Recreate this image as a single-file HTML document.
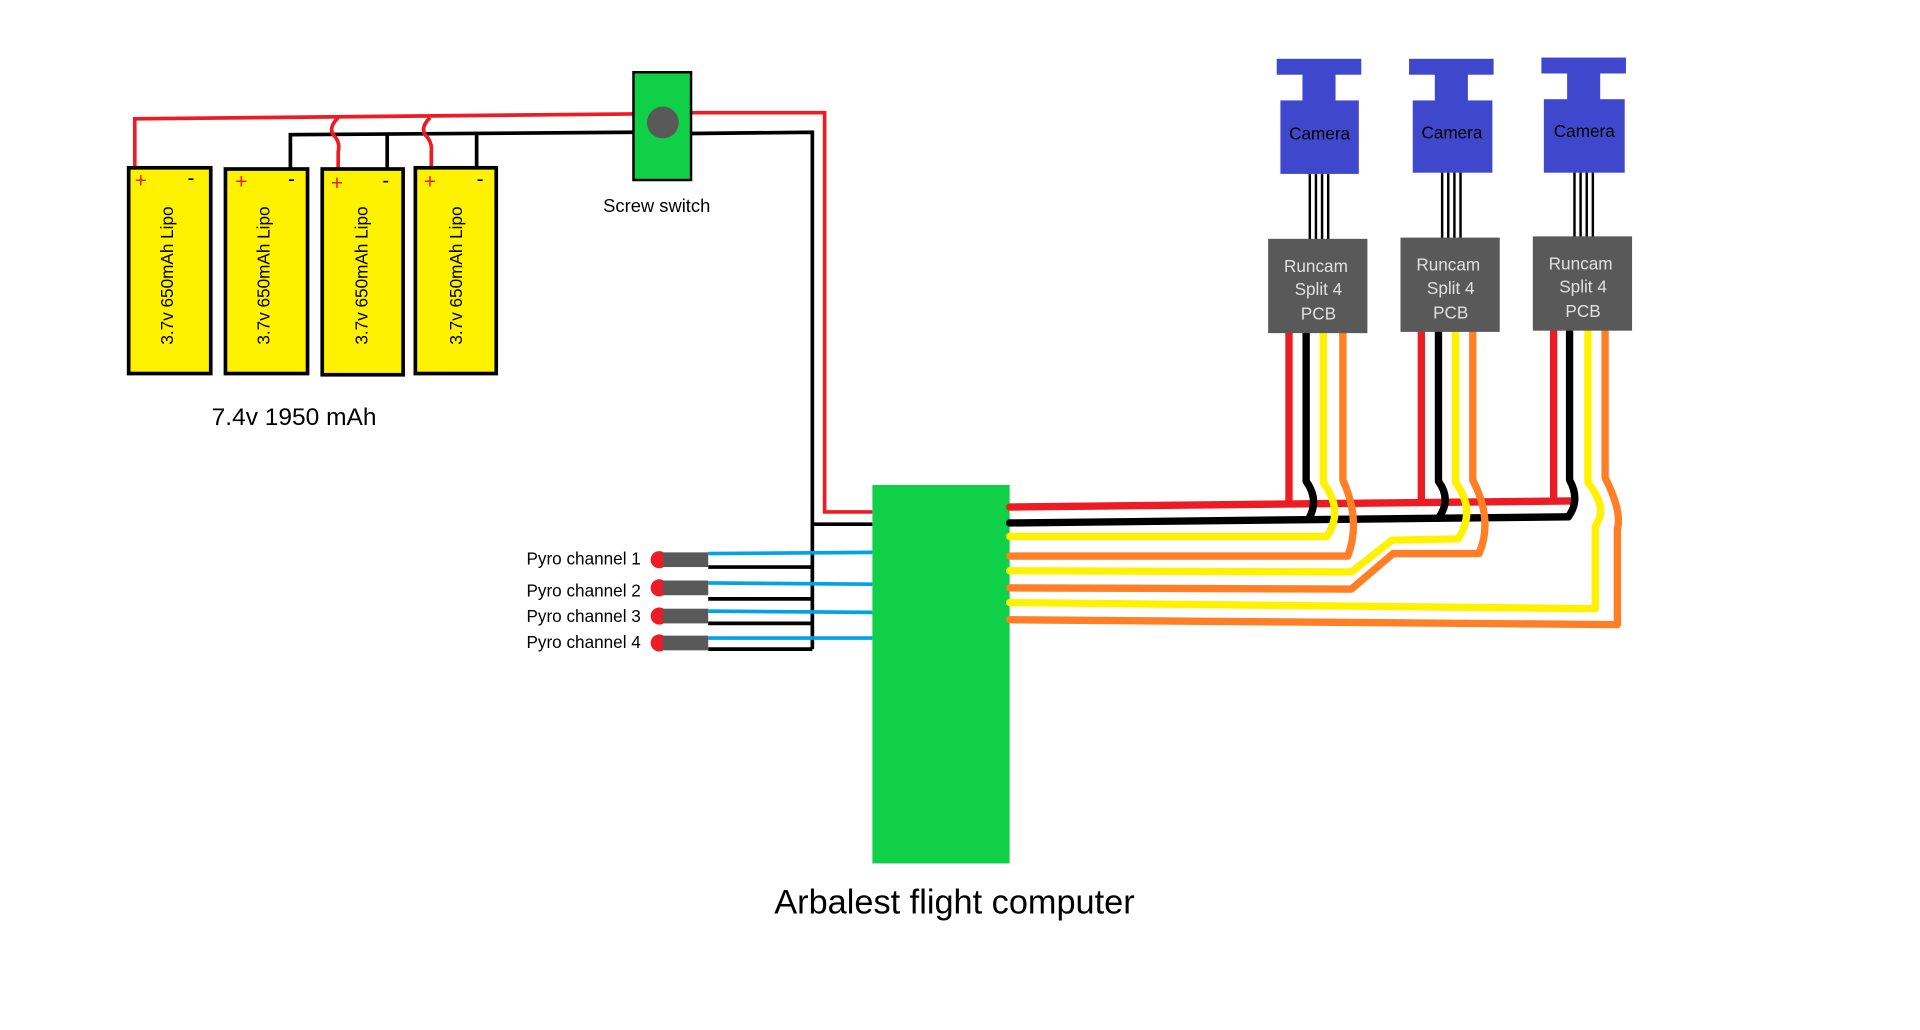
<!DOCTYPE html>
<html><head><meta charset="utf-8"><style>
html,body{margin:0;padding:0;background:#fff;width:1920px;height:1030px;overflow:hidden}
svg{display:block}
text{font-family:"Liberation Sans",sans-serif}
</style></head><body>
<svg width="1920" height="1030" viewBox="0 0 1567 841" preserveAspectRatio="none" xmlns="http://www.w3.org/2000/svg">
<rect width="1567" height="841" fill="#fff"/>
<polyline points="110,137 110,97 517,93" fill="none" stroke="#ed1c24" stroke-width="3"/>
<polyline points="237,137 237,110 517,108" fill="none" stroke="#000" stroke-width="3"/>
<line x1="316" y1="110" x2="316" y2="137" stroke="#000" stroke-width="3"/>
<line x1="389" y1="110" x2="389" y2="137" stroke="#000" stroke-width="3"/>
<path d="M276,96 Q268,104 272,110 Q278,116 276,124 L276,137" fill="none" stroke="#ed1c24" stroke-width="3"/>
<path d="M351,96 Q343,104 347,110 Q353,116 352,124 L352,137" fill="none" stroke="#ed1c24" stroke-width="3"/>
<g stroke="#000" stroke-width="3" fill="#fff200">
<rect x="105" y="137" width="67" height="168"/>
<rect x="184" y="138" width="67" height="167"/>
<rect x="263" y="138" width="66" height="168"/>
<rect x="339" y="137" width="66" height="168"/>
</g>
<g fill="#ed1c24" font-size="17"><text x="110" y="153">+</text><text x="192" y="154">+</text><text x="270" y="155">+</text><text x="346" y="154">+</text></g>
<g fill="#000" font-size="17"><text x="153" y="151">-</text><text x="235" y="152">-</text><text x="312" y="153">-</text><text x="389" y="152">-</text></g>
<g font-size="14" fill="#000" text-anchor="middle">
<text transform="translate(141,225) rotate(-90)">3.7v 650mAh Lipo</text>
<text transform="translate(220,225) rotate(-90)">3.7v 650mAh Lipo</text>
<text transform="translate(300,225) rotate(-90)">3.7v 650mAh Lipo</text>
<text transform="translate(377,225) rotate(-90)">3.7v 650mAh Lipo</text>
</g>
<text x="240" y="347" font-size="20" text-anchor="middle" fill="#000">7.4v 1950 mAh</text>
<polyline points="564,92 673,92 673,418 712,418" fill="none" stroke="#ed1c24" stroke-width="3"/>
<polyline points="564,109 663,108 663,530" fill="none" stroke="#000" stroke-width="3"/>
<line x1="663" y1="428" x2="712" y2="428" stroke="#000" stroke-width="3"/>
<rect x="517" y="59" width="47" height="88" fill="#10d048" stroke="#000" stroke-width="2"/>
<ellipse cx="541" cy="100" rx="13" ry="13" fill="#595959"/>
<text x="536" y="173" font-size="15" text-anchor="middle" fill="#000">Screw switch</text>
<g stroke="#000" stroke-width="3">
<line x1="578" y1="463" x2="663" y2="463"/><line x1="578" y1="489" x2="663" y2="489"/>
<line x1="578" y1="509" x2="663" y2="509"/><line x1="578" y1="530" x2="663" y2="530"/>
</g>
<g stroke="#00a2e8" stroke-width="3">
<line x1="578" y1="452" x2="712" y2="451"/><line x1="578" y1="476" x2="712" y2="477"/>
<line x1="578" y1="499" x2="712" y2="500"/><line x1="578" y1="521" x2="712" y2="521"/>
</g>
<g fill="#ed1c24"><circle cx="538" cy="457" r="7"/><circle cx="538" cy="480" r="7"/><circle cx="538" cy="503" r="7"/><circle cx="538" cy="525" r="7"/></g>
<g fill="#595959"><rect x="541" y="451" width="37" height="12"/><rect x="541" y="474" width="37" height="12"/><rect x="541" y="497" width="37" height="12"/><rect x="541" y="519" width="37" height="12"/></g>
<g font-size="14" fill="#000" text-anchor="end">
<text x="523" y="461">Pyro channel 1</text><text x="523" y="487">Pyro channel 2</text>
<text x="523" y="508">Pyro channel 3</text><text x="523" y="529">Pyro channel 4</text>
</g>
<rect x="712" y="396" width="112" height="309" fill="#10d048"/>
<text x="779" y="746" font-size="28" text-anchor="middle" fill="#000">Arbalest flight computer</text>
<g fill="none" stroke-width="6" stroke-linejoin="round" stroke-linecap="round">
<polyline points="1052,271 1052,411" stroke="#ed1c24"/>
<polyline points="1160,271 1160,410" stroke="#ed1c24"/>
<polyline points="1268,271 1268,398 1268,409" stroke="#ed1c24"/>
<polyline points="824,414 1282,409" stroke="#ed1c24"/>
<path d="M824,427 L1280,422" stroke="#000"/>
<path d="M1066,271 L1066,393 Q1077,408 1068,424" stroke="#000"/>
<path d="M1174,271 L1174,393 Q1185,408 1174,423" stroke="#000"/>
<path d="M1281,271 L1281,392 Q1290,408 1280,422" stroke="#000"/>
<path d="M1080,271 L1080,394 Q1097,417 1083,438 L824,438" stroke="#fff200"/>
<path d="M1096,271 L1096,392 Q1111,425 1100,454 L824,454" stroke="#ff7f27"/>
<path d="M1188,271 L1188,394 Q1205,417 1190,440 L1136,441 L1103,467 L824,466" stroke="#fff200"/>
<path d="M1202,271 L1202,392 Q1219,425 1207,452 L1137,452 L1103,481 L824,480" stroke="#ff7f27"/>
<path d="M1296,271 L1296,394 Q1310,412 1305,424 L1302,430 L1302,497 L824,492" stroke="#fff200"/>
<path d="M1310,271 L1310,390 Q1324,418 1320,432 L1320,510 L824,506" stroke="#ff7f27"/>
</g>
<g>
<rect x="1042" y="48" width="69" height="13" fill="#3f48cc"/><rect x="1063" y="60" width="27" height="23" fill="#3f48cc"/><rect x="1045" y="82" width="64" height="60" fill="#3f48cc"/>
<text x="1077" y="114" font-size="14" text-anchor="middle" fill="#000">Camera</text>
<g stroke="#000" stroke-width="2"><line x1="1069" y1="142" x2="1069" y2="196"/><line x1="1074" y1="142" x2="1074" y2="196"/><line x1="1079" y1="142" x2="1079" y2="196"/><line x1="1084" y1="142" x2="1084" y2="196"/></g>
<rect x="1035" y="195" width="81" height="77" fill="#595959"/>
<g font-size="14" text-anchor="middle" fill="#e0e0e0"><text x="1074" y="222">Runcam</text><text x="1076" y="241">Split 4</text><text x="1076" y="261">PCB</text></g>
</g>
<g>
<rect x="1150" y="48" width="69" height="13" fill="#3f48cc"/><rect x="1171" y="60" width="27" height="23" fill="#3f48cc"/><rect x="1153" y="82" width="65" height="59" fill="#3f48cc"/>
<text x="1185" y="113" font-size="14" text-anchor="middle" fill="#000">Camera</text>
<g stroke="#000" stroke-width="2"><line x1="1177" y1="141" x2="1177" y2="195"/><line x1="1182" y1="141" x2="1182" y2="195"/><line x1="1187" y1="141" x2="1187" y2="195"/><line x1="1192" y1="141" x2="1192" y2="195"/></g>
<rect x="1143" y="194" width="81" height="77" fill="#595959"/>
<g font-size="14" text-anchor="middle" fill="#e0e0e0"><text x="1182" y="221">Runcam</text><text x="1184" y="240">Split 4</text><text x="1184" y="260">PCB</text></g>
</g>
<g>
<rect x="1258" y="47" width="69" height="13" fill="#3f48cc"/><rect x="1279" y="59" width="27" height="23" fill="#3f48cc"/><rect x="1260" y="81" width="66" height="60" fill="#3f48cc"/>
<text x="1293" y="112" font-size="14" text-anchor="middle" fill="#000">Camera</text>
<g stroke="#000" stroke-width="2"><line x1="1285" y1="141" x2="1285" y2="194"/><line x1="1290" y1="141" x2="1290" y2="194"/><line x1="1295" y1="141" x2="1295" y2="194"/><line x1="1300" y1="141" x2="1300" y2="194"/></g>
<rect x="1251" y="193" width="81" height="77" fill="#595959"/>
<g font-size="14" text-anchor="middle" fill="#e0e0e0"><text x="1290" y="220">Runcam</text><text x="1292" y="239">Split 4</text><text x="1292" y="259">PCB</text></g>
</g>
</svg>
</body></html>
